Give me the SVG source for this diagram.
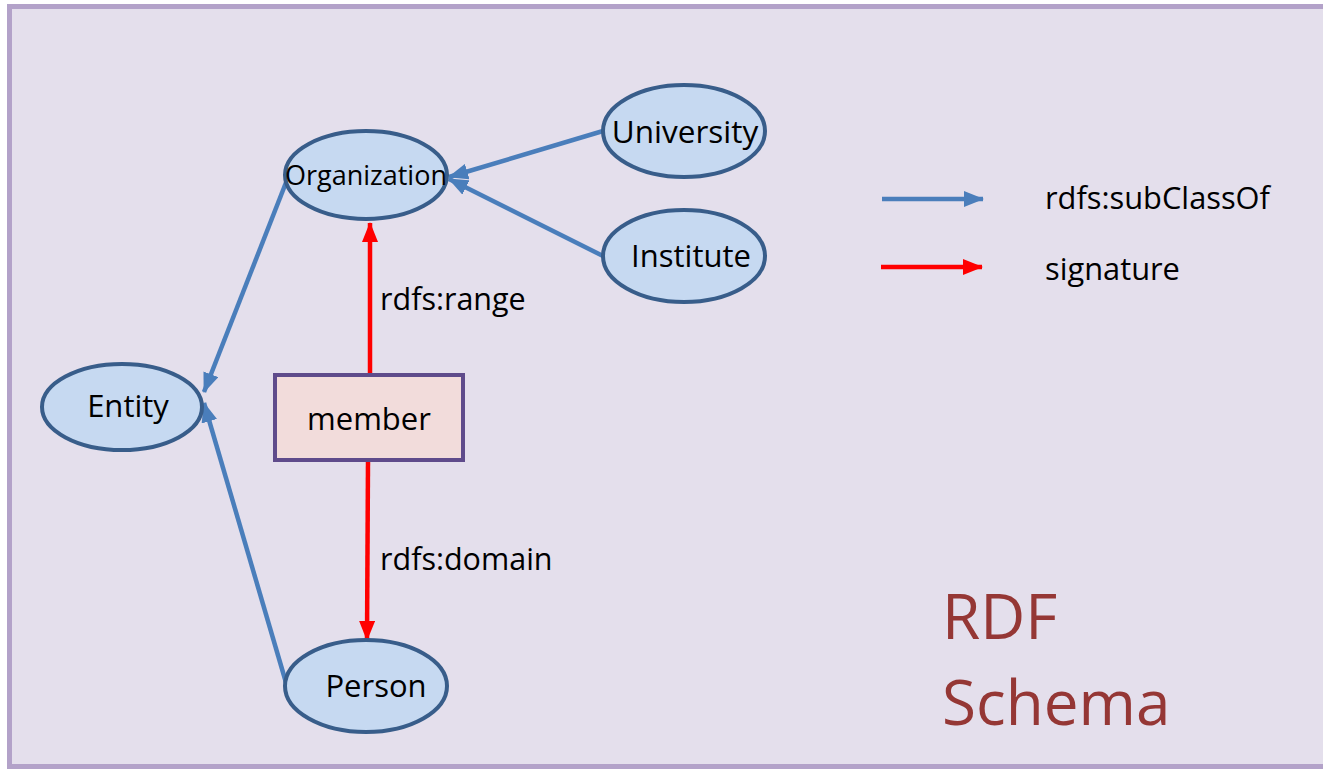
<svg xmlns="http://www.w3.org/2000/svg" width="1323" height="769" viewBox="0 0 1323 769">
  <defs>
    <marker id="arrow-blue" viewBox="0 0 20 16" refX="19" refY="8" markerWidth="20" markerHeight="16" markerUnits="userSpaceOnUse" orient="auto">
      <path d="M0,0 L20,8 L0,16 Z" fill="#4a7ebb"/>
    </marker>
    <marker id="arrow-red" viewBox="0 0 20 16" refX="19" refY="8" markerWidth="20" markerHeight="16" markerUnits="userSpaceOnUse" orient="auto">
      <path d="M0,0 L20,8 L0,16 Z" fill="#ff0000"/>
    </marker>
  </defs>
  <style>
    .frame { fill: #e4dfec; stroke: #b3a2c9; stroke-width: 5; }
    .cls { fill: #c6d9f1; stroke: #385d8a; stroke-width: 4; }
    .prop { fill: #f2dcdb; stroke: #5f4b8b; stroke-width: 4; }
    .lbl { font-family: "Open Sans", "Noto Sans", sans-serif; fill: #000; }
    .sub { stroke: #4a7ebb; stroke-width: 4.5; fill: none; marker-end: url(#arrow-blue); }
    .sig { stroke: #ff0000; stroke-width: 4.5; fill: none; marker-end: url(#arrow-red); }
    .title { font-family: "Open Sans", "Noto Sans", sans-serif; fill: #953735; font-size: 62px; }
  </style>

  <!-- background panel -->
  <rect class="frame" x="9.5" y="6.5" width="1330" height="760"/>

  <!-- class hierarchy and property signature edges -->
  <g id="connectors">
    <line class="sub" x1="603" y1="131" x2="449" y2="177"/>
    <line class="sub" x1="603" y1="256" x2="449" y2="179"/>
    <line class="sub" x1="287" y1="180" x2="204" y2="392"/>
    <line class="sub" x1="287" y1="686" x2="204" y2="403"/>
    <line class="sig" x1="370" y1="373" x2="370" y2="223"/>
    <line class="sig" x1="368" y1="461" x2="367" y2="640"/>
  </g>

  <g id="organization">
    <ellipse class="cls" cx="366" cy="175" rx="81" ry="44"/>
    <text class="lbl" x="366" y="185" font-size="27" text-anchor="middle">Organization</text>
  </g>
  <g id="university">
    <ellipse class="cls" cx="684" cy="131" rx="81" ry="46"/>
    <text class="lbl" x="685" y="143" font-size="31.5" text-anchor="middle">University</text>
  </g>
  <g id="institute">
    <ellipse class="cls" cx="684" cy="256" rx="81" ry="46"/>
    <text class="lbl" x="691" y="267" font-size="31" text-anchor="middle">Institute</text>
  </g>
  <g id="entity">
    <ellipse class="cls" cx="122" cy="407" rx="80" ry="43"/>
    <text class="lbl" x="128" y="417" font-size="31" text-anchor="middle">Entity</text>
  </g>
  <g id="person">
    <ellipse class="cls" cx="366" cy="686" rx="81" ry="46"/>
    <text class="lbl" x="376" y="697" font-size="31" text-anchor="middle">Person</text>
  </g>
  <g id="member">
    <rect class="prop" x="275" y="375" width="188" height="85"/>
    <text class="lbl" x="369" y="430" font-size="31" text-anchor="middle">member</text>
  </g>

  <g id="edge-labels">
    <text class="lbl" x="380" y="310" font-size="30.5">rdfs:range</text>
    <text class="lbl" x="380" y="570" font-size="30.5">rdfs:domain</text>
  </g>

  <g id="legend">
    <line class="sub" x1="882" y1="199" x2="983" y2="199"/>
    <line class="sig" x1="881" y1="267" x2="982" y2="267"/>
    <text class="lbl" x="1045" y="209" font-size="30.8">rdfs:subClassOf</text>
    <text class="lbl" x="1045" y="280" font-size="30.8">signature</text>
  </g>

  <g id="heading">
    <text class="title" x="942" y="639">RDF</text>
    <text class="title" x="942" y="725">Schema</text>
  </g>
</svg>
